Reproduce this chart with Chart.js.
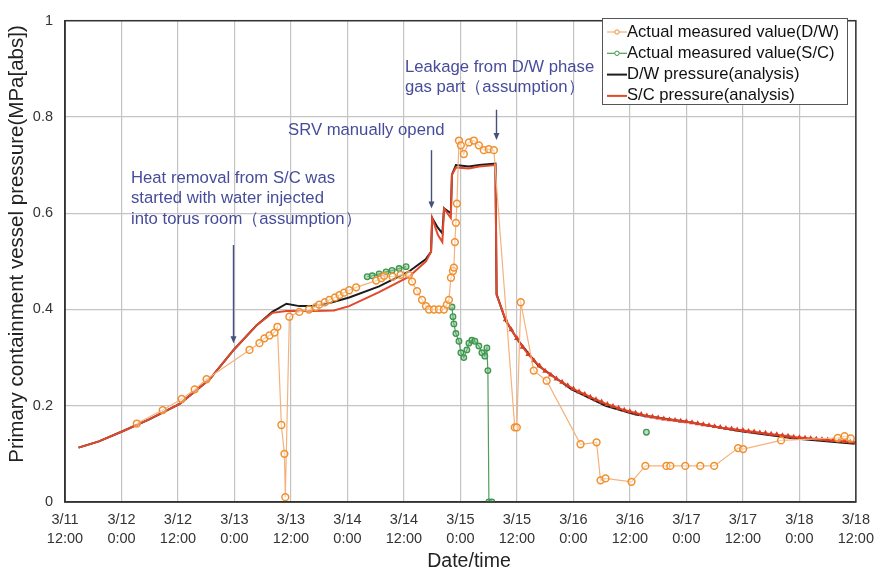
<!DOCTYPE html>
<html>
<head>
<meta charset="utf-8">
<script src="https://cdn.jsdelivr.net/npm/chart.js@4.4.1/dist/chart.umd.min.js"></script>
<style>
  html, body { margin: 0; padding: 0; background: #fff; }
  #wrap { width: 882px; height: 575px; position: relative; }
</style>
</head>
<body>
<div id="wrap"><canvas id="pressureChart"></canvas></div>
<script>
// x values are day-of-March (12.5 = 3/12 12:00), y values in MPa[abs]
const tickLabels = [
    ['3/11', '12:00'], ['3/12', '0:00'], ['3/12', '12:00'], ['3/13', '0:00'], ['3/13', '12:00'],
    ['3/14', '0:00'], ['3/14', '12:00'], ['3/15', '0:00'], ['3/15', '12:00'], ['3/16', '0:00'],
    ['3/16', '12:00'], ['3/17', '0:00'], ['3/17', '12:00'], ['3/18', '0:00'], ['3/18', '12:00']
];
const xTitle = 'Date/time';
const yTitle = 'Primary containment vessel pressure(MPa[abs])';

const dwMeasuredTime = [12.136, 12.365, 12.533, 12.648, 12.753, 13.133, 13.221, 13.265, 13.31, 13.354, 13.38,
    13.415, 13.442, 13.45, 13.486, 13.574, 13.66, 13.72, 13.75, 13.8, 13.84, 13.89, 13.93, 13.97, 14.015, 14.077,
    14.254, 14.3, 14.325, 14.4, 14.47, 14.545, 14.572, 14.616, 14.66, 14.695, 14.722, 14.766, 14.81, 14.854, 14.88,
    14.898, 14.916, 14.934, 14.942, 14.951, 14.96, 14.969, 14.987, 15.004, 15.03, 15.075, 15.119, 15.163, 15.207,
    15.251, 15.296, 15.481, 15.499, 15.534, 15.649, 15.763, 16.063, 16.205, 16.24, 16.284, 16.514, 16.637, 16.823,
    16.858, 16.99, 17.123, 17.246, 17.458, 17.502, 17.838, 18.34, 18.4, 18.455];
const dwMeasuredValue = [0.163, 0.191, 0.214, 0.234, 0.255, 0.316, 0.33, 0.34, 0.346, 0.352, 0.364,
    0.16, 0.10, 0.01, 0.385, 0.395, 0.40, 0.405, 0.41, 0.415, 0.42, 0.425, 0.43, 0.435, 0.44, 0.446,
    0.46, 0.465, 0.47, 0.468, 0.472, 0.472, 0.458, 0.438, 0.42, 0.407, 0.40, 0.40, 0.40, 0.40, 0.41,
    0.42, 0.466, 0.48, 0.487, 0.54, 0.58, 0.62, 0.751, 0.741, 0.723, 0.747, 0.751, 0.741, 0.731,
    0.733, 0.731, 0.155, 0.155, 0.415, 0.273, 0.252, 0.12, 0.124, 0.045, 0.049, 0.042, 0.075, 0.075,
    0.075, 0.075, 0.075, 0.075, 0.112, 0.11, 0.128, 0.133, 0.137, 0.132];

const scMeasuredTime = [14.175, 14.219, 14.28, 14.342, 14.395, 14.457, 14.519, 14.7,
    14.925, 14.934, 14.942, 14.96, 14.987, 15.004, 15.03, 15.057, 15.075, 15.101, 15.128, 15.163,
    15.19, 15.216, 15.234, 15.243, 15.252, 15.278, 16.0, 16.646];
const scMeasuredValue = [0.468, 0.47, 0.474, 0.478, 0.481, 0.485, 0.489, null,
    0.405, 0.385, 0.37, 0.35, 0.334, 0.31, 0.30, 0.316, 0.33, 0.336, 0.334, 0.324,
    0.31, 0.303, 0.32, 0.273, 0, 0, null, 0.145];

const dwAnalysisTime = [11.62, 11.8, 12.01, 12.25, 12.515, 12.78, 13.0, 13.195, 13.335, 13.46, 13.575, 13.69,
    13.85, 14.015, 14.28, 14.545, 14.695, 14.74, 14.75, 14.8, 14.84, 14.855, 14.915, 14.925, 14.96, 15.075,
    15.165, 15.31, 15.32, 15.4, 15.515, 15.69, 15.985, 16.285, 16.55, 17.015, 17.485, 17.96, 18.49];
const dwAnalysisValue = [0.113, 0.126, 0.147, 0.172, 0.204, 0.255, 0.318, 0.367, 0.395, 0.412, 0.407, 0.407,
    0.414, 0.425, 0.448, 0.479, 0.505, 0.52, 0.59, 0.57, 0.558, 0.61, 0.60, 0.68, 0.70, 0.697,
    0.70, 0.703, 0.432, 0.377, 0.334, 0.283, 0.234, 0.2, 0.182, 0.166, 0.147, 0.132, 0.121];

const scAnalysisTime = [11.62, 11.8, 12.01, 12.25, 12.515, 12.78, 13.0, 13.195, 13.335, 13.46, 13.7, 13.88,
    14.015, 14.28, 14.545, 14.695, 14.74, 14.75, 14.8, 14.84, 14.855, 14.915, 14.925, 14.96, 15.075, 15.165,
    15.31, 15.32, 15.4, 15.45, 15.5, 15.55, 15.6, 15.65, 15.7, 15.75, 15.8, 15.85, 15.9, 15.95, 16.0, 16.05,
    16.1, 16.15, 16.2, 16.25, 16.3, 16.35, 16.4, 16.45, 16.5, 16.55, 16.6, 16.65, 16.7, 16.75, 16.8, 16.85,
    16.9, 16.95, 17.0, 17.05, 17.1, 17.15, 17.2, 17.25, 17.3, 17.35, 17.4, 17.45, 17.5, 17.55, 17.6, 17.65,
    17.7, 17.75, 17.8, 17.85, 17.9, 17.95, 18.0, 18.05, 18.1, 18.15, 18.2, 18.25, 18.3, 18.35, 18.4, 18.45, 18.5];
const scAnalysisValue = [0.113, 0.126, 0.147, 0.172, 0.204, 0.255, 0.318, 0.367, 0.393, 0.397, 0.397, 0.398,
    0.407, 0.436, 0.468, 0.5, 0.52, 0.59, 0.555, 0.54, 0.61, 0.59, 0.68, 0.695, 0.693, 0.697,
    0.70, 0.43, 0.379, 0.358, 0.340, 0.322, 0.307, 0.294, 0.283, 0.272, 0.264, 0.256, 0.249, 0.242,
    0.235, 0.229, 0.224, 0.218, 0.213, 0.208, 0.203, 0.199, 0.195, 0.191, 0.188, 0.185, 0.182, 0.179,
    0.177, 0.175, 0.173, 0.171, 0.170, 0.168, 0.167, 0.165, 0.163, 0.161, 0.159, 0.157, 0.155, 0.153,
    0.152, 0.150, 0.149, 0.147, 0.146, 0.144, 0.143, 0.141, 0.140, 0.138, 0.137, 0.135, 0.134, 0.133,
    0.132, 0.131, 0.130, 0.129, 0.128, 0.127, 0.126, 0.125, 0.124];

function pairs(xs, ys) {
    return xs.map(function(x, i) { return { x: x, y: ys[i] }; });
}

const FONT = '"Liberation Sans", Arial, sans-serif';
const TEXT_BLUE = '#474c9a';
const annotations = [
    { lines: ['Heat removal from S/C was', 'started with water injected', 'into torus room\uff08assumption\uff09'],
      textX: 131, textY: 178, arrowX: 12.99, arrowFrom: 0.534, arrowTo: 0.33 },
    { lines: ['SRV manually opend'], textX: 288, textY: 130, arrowX: 14.74, arrowFrom: 0.731, arrowTo: 0.61 },
    { lines: ['Leakage from D/W phase', 'gas part\uff08assumption\uff09'], textX: 405, textY: 67,
      arrowX: 15.313, arrowFrom: 0.815, arrowTo: 0.752 }
];

const extrasPlugin = {
    id: 'extras',
    afterDatasetsDraw(chart) {
        const ctx = chart.ctx, a = chart.chartArea;
        const xs = chart.scales.x, ys = chart.scales.y;
        ctx.save();
        // frame
        ctx.strokeStyle = '#333';
        ctx.lineWidth = 1.5;
        ctx.strokeRect(a.left, a.top, a.right - a.left, a.bottom - a.top);

        // axis titles
        ctx.fillStyle = '#222';
        ctx.textAlign = 'center';
        ctx.textBaseline = 'middle';
        ctx.font = '19.5px ' + FONT;
        ctx.fillText(xTitle, 469, 562);
        ctx.save();
        ctx.translate(17, 244);
        ctx.rotate(-Math.PI / 2);
        ctx.font = '20.5px ' + FONT;
        ctx.fillText(yTitle, 0, 0);
        ctx.restore();

        // annotations
        ctx.font = '16.7px ' + FONT;
        ctx.textAlign = 'left';
        annotations.forEach(function(an) {
            ctx.fillStyle = TEXT_BLUE;
            an.lines.forEach(function(t, i) { ctx.fillText(t, an.textX, an.textY + i * 20.5); });
            const px = Math.round(xs.getPixelForValue(an.arrowX)) + 0.5;
            const y1 = ys.getPixelForValue(an.arrowFrom), y2 = ys.getPixelForValue(an.arrowTo);
            ctx.strokeStyle = '#46507e';
            ctx.lineWidth = 1.4;
            ctx.beginPath(); ctx.moveTo(px, y1); ctx.lineTo(px, y2 - 5); ctx.stroke();
            ctx.fillStyle = '#46507e';
            ctx.beginPath(); ctx.moveTo(px - 3, y2 - 7); ctx.lineTo(px + 3, y2 - 7); ctx.lineTo(px, y2); ctx.closePath(); ctx.fill();
        });

        // legend
        const lx = 602, ly = 18, lw = 245, lh = 86;
        ctx.fillStyle = '#fff';
        ctx.fillRect(lx, ly, lw, lh);
        ctx.strokeStyle = '#555';
        ctx.lineWidth = 1;
        ctx.strokeRect(lx + 0.5, ly + 0.5, lw, lh);
        ctx.font = '16.6px ' + FONT;
        chart.data.datasets.forEach(function(ds, i) {
            const yy = 32 + i * 21.3;
            ctx.strokeStyle = ds.borderColor;
            ctx.lineWidth = ds.legendWidth;
            ctx.beginPath(); ctx.moveTo(607, yy); ctx.lineTo(627, yy); ctx.stroke();
            if (ds.legendMarker) {
                ctx.fillStyle = '#fff';
                ctx.strokeStyle = ds.pointBorderColor;
                ctx.lineWidth = 1;
                ctx.beginPath(); ctx.arc(617, yy, 2.2, 0, Math.PI * 2); ctx.fill(); ctx.stroke();
            }
            ctx.fillStyle = '#111';
            ctx.fillText(ds.label, 627, yy);
        });
        ctx.restore();
    }
};

Chart.defaults.font.family = FONT;
Chart.defaults.color = '#222';

new Chart(document.getElementById('pressureChart'), {
    type: 'line',
    data: {
        datasets: [{
            label: 'Actual measured value(D/W)',
            data: pairs(dwMeasuredTime, dwMeasuredValue),
            borderColor: '#f5b27c',
            borderWidth: 1.2,
            pointRadius: 3.4,
            pointBorderWidth: 1.5,
            pointBorderColor: '#f0902e',
            pointBackgroundColor: 'rgba(255,255,255,0.4)',
            legendWidth: 1.2,
            legendMarker: true,
            order: 1
        }, {
            label: 'Actual measured value(S/C)',
            data: pairs(scMeasuredTime, scMeasuredValue),
            borderColor: '#4f9e5a',
            borderWidth: 1.2,
            pointRadius: 2.8,
            pointBorderWidth: 1.3,
            pointBorderColor: '#3f9650',
            pointBackgroundColor: 'rgba(120,190,130,0.5)',
            legendWidth: 1.2,
            legendMarker: true,
            order: 2
        }, {
            label: 'D/W pressure(analysis)',
            data: pairs(dwAnalysisTime, dwAnalysisValue),
            borderColor: '#1c1c1c',
            borderWidth: 2,
            pointRadius: 0,
            legendWidth: 2,
            order: 4
        }, {
            label: 'S/C pressure(analysis)',
            data: pairs(scAnalysisTime, scAnalysisValue),
            borderColor: '#e2492c',
            borderWidth: 2,
            pointStyle: 'triangle',
            pointRadius: function(c) { return c.raw && c.raw.x >= 15.39 ? 3.3 : 0; },
            pointBackgroundColor: '#d63f26',
            pointBorderColor: '#d63f26',
            pointBorderWidth: 0,
            legendWidth: 2,
            order: 3
        }]
    },
    options: {
        responsive: true,
        maintainAspectRatio: false,
        animation: false,
        spanGaps: false,
        layout: { padding: { top: 11, right: 24, left: 0, bottom: 0 } },
        plugins: {
            legend: { display: false },
            tooltip: { enabled: false }
        },
        scales: {
            x: {
                type: 'linear',
                min: 11.5,
                max: 18.5,
                afterFit: function(s) { s.height = 73; },
                afterBuildTicks: function(s) {
                    s.ticks = tickLabels.map(function(t, i) { return { value: 11.5 + i * 0.5 }; });
                },
                grid: { color: '#c4c4c4', lineWidth: 1.2, drawTicks: false },
                border: { color: '#333', width: 1.5 },
                ticks: {
                    padding: 8,
                    maxRotation: 0,
                    autoSkip: false,
                    color: '#333',
                    font: { size: 14.5, lineHeight: 1.32 },
                    callback: function(v, i) { return tickLabels[i]; }
                }
            },
            y: {
                min: 0,
                max: 1,
                afterFit: function(s) { s.width = 65; },
                grid: { color: '#c4c4c4', lineWidth: 1.2, drawTicks: false },
                border: { color: '#333', width: 1.5 },
                ticks: {
                    stepSize: 0.2,
                    padding: 12,
                    color: '#333',
                    font: { size: 14.5 },
                    callback: function(v) { return String(+v.toFixed(1)); }
                }
            }
        }
    },
    plugins: [extrasPlugin]
});
</script>
</body>
</html>
